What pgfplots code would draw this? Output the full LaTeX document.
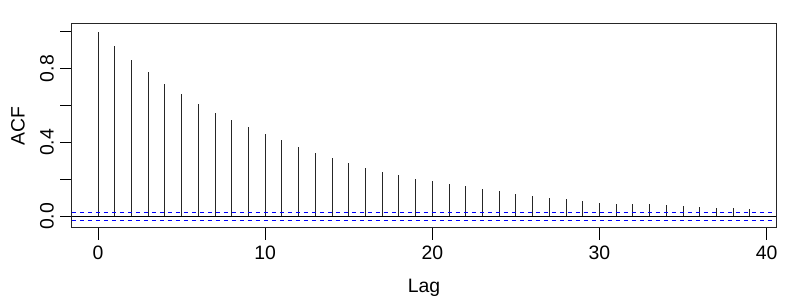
\documentclass[border=0pt]{standalone}
\usepackage{pgfplots}
\pgfplotsset{compat=1.18}
\usepackage{fontspec}
\setmainfont{Liberation Sans}
\begin{document}
\fontsize{9.7}{11}\selectfont
\begin{tikzpicture}
\useasboundingbox (-36pt,-36pt) rectangle (364pt,114pt);
\begin{axis}[
  scale only axis,
  width=352pt, height=102pt,
  at={(0,0)}, anchor=south west,
  xmin=-1.56, xmax=40.56,
  ymin=-0.0625, ymax=1.0409,
  axis line style={line width=0.5pt, black!85},
  tick style={line width=0.5pt, black},
  major tick length=5.8pt,
  tick align=outside,
  xtick pos=bottom, ytick pos=left,
  xtick={0,10,20,30,40},
  ytick={0,0.2,0.4,0.6,0.8,1.0},
  yticklabels={0.0,,0.4,,0.8,},
  /pgf/number format/assume math mode=true,
  xticklabel style={font=\fontsize{9.7}{11}\selectfont, anchor=center, yshift=-6.7pt},
  yticklabel style={font=\fontsize{9.7}{11}\selectfont, rotate=90, anchor=center, yshift=6.7pt},
  ylabel={ACF}, xlabel={Lag},
  xlabel style={font=\fontsize{9.7}{11}\selectfont, at={(axis description cs:0.5,-0.294)}, anchor=center},
  ylabel style={font=\fontsize{9.7}{11}\selectfont, at={(axis description cs:-0.0767,0.5)}, anchor=center, rotate=0},
  clip=false,
]
\addplot[ycomb, line width=0.45pt, black!85, mark=none] coordinates {
(0,1.000) (1,0.923) (2,0.846) (3,0.782) (4,0.719) (5,0.662) (6,0.609) (7,0.562)
(8,0.521) (9,0.483) (10,0.447) (11,0.411) (12,0.375) (13,0.344) (14,0.315)
(15,0.288) (16,0.261) (17,0.241) (18,0.223) (19,0.203) (20,0.189) (21,0.176)
(22,0.164) (23,0.148) (24,0.137) (25,0.124) (26,0.111) (27,0.099) (28,0.092)
(29,0.083) (30,0.074) (31,0.070) (32,0.066) (33,0.066) (34,0.061) (35,0.056)
(36,0.050) (37,0.047) (38,0.043) (39,0.039)
};
\addplot[black, line width=0.5pt, mark=none] coordinates {(-1.56,0) (40.56,0)};
\addplot[blue, dash pattern=on 2pt off 2pt, line width=0.5pt, mark=none] coordinates {(-1.56,0.0216) (40.56,0.0216)};
\addplot[blue, dash pattern=on 2pt off 2pt, line width=0.5pt, mark=none] coordinates {(-1.56,-0.0216) (40.56,-0.0216)};
\end{axis}
\end{tikzpicture}
\end{document}
